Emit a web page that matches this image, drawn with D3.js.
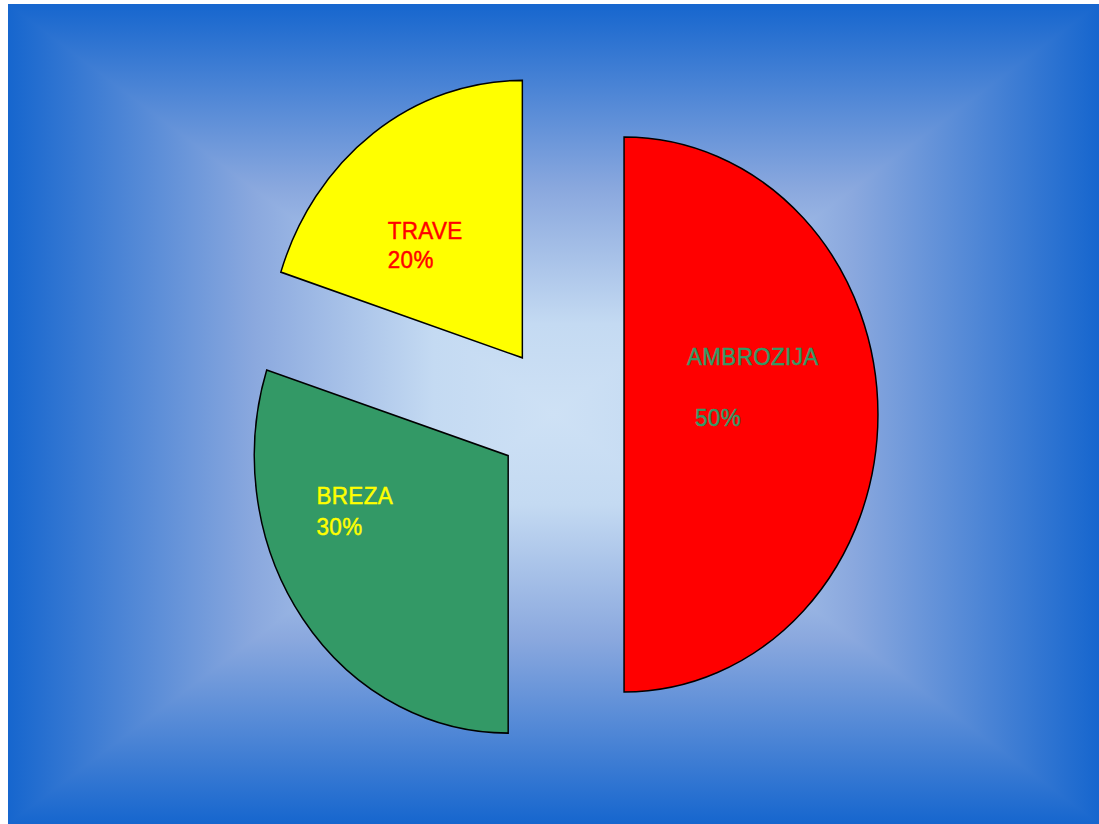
<!DOCTYPE html>
<html lang="hr">
<head>
<meta charset="utf-8">
<title>Alergeni</title>
<style>
  html, body { margin: 0; padding: 0; background: #ffffff; }
  #chart { display: block; }
  text { font-family: "Liberation Sans", Arial, sans-serif; }
</style>
</head>
<body>
<svg id="chart" width="1099" height="824"></svg>
<script src="https://d3js.org/d3.v7.min.js"></script>
<script>
// data
const categories = ["AMBROZIJA", "BREZA", "TRAVE"];
const values = [50, 30, 20];
const percentLabels = ["50%", "30%", "20%"];

// styles
const sliceColors = ["#ff0000", "#339966", "#ffff00"];
const labelColors = ["#339966", "#ffff00", "#ff0000"];

// layout
const W = 1099, H = 824;
const bg = { x0: 8, y0: 4, x1: 1099, y1: 824 };
const cx = 560, cy = 414.5;
const R = 277.5;          // vertical radius
const sx = 0.915;         // horizontal squash of the whole pie
const explode = 70;       // distance each slice is pulled out
const fontSize = 24.5;
// text start relative to slice centroid (screen px), and second line offset
const labelNudge = [[-64, -50], [-89, -33], [-60, -6.5]];
const percentShift = [[8, 62], [0, 31], [0, 29]];

const edgeBlue = "rgb(22,102,206)";
const midBlue = "rgb(138,168,222)";
const lightBlue = "rgb(196,218,242)";
const centreBlue = "rgb(206,225,245)";

const svg = d3.select("#chart");
const defs = svg.append("defs");

// rectangular gradient background built from four triangles
const bcx = (bg.x0 + bg.x1) / 2, bcy = (bg.y0 + bg.y1) / 2;
const sides = [
  { id: "gTop", pts: [[bg.x0, bg.y0], [bg.x1, bg.y0], [bcx, bcy]], from: [bcx, bg.y0], to: [bcx, bcy] },
  { id: "gBottom", pts: [[bg.x0, bg.y1], [bg.x1, bg.y1], [bcx, bcy]], from: [bcx, bg.y1], to: [bcx, bcy] },
  { id: "gLeft", pts: [[bg.x0, bg.y0], [bg.x0, bg.y1], [bcx, bcy]], from: [bg.x0, bcy], to: [bcx, bcy] },
  { id: "gRight", pts: [[bg.x1, bg.y0], [bg.x1, bg.y1], [bcx, bcy]], from: [bg.x1, bcy], to: [bcx, bcy] }
];
sides.forEach(s => {
  const lg = defs.append("linearGradient")
    .attr("id", s.id)
    .attr("gradientUnits", "userSpaceOnUse")
    .attr("x1", s.from[0]).attr("y1", s.from[1])
    .attr("x2", s.to[0]).attr("y2", s.to[1]);
  lg.append("stop").attr("offset", 0).attr("stop-color", edgeBlue);
  lg.append("stop").attr("offset", 0.45).attr("stop-color", midBlue);
  lg.append("stop").attr("offset", 0.78).attr("stop-color", lightBlue);
  lg.append("stop").attr("offset", 1).attr("stop-color", centreBlue);
});
const bgG = svg.append("g").attr("class", "background");
bgG.append("rect")
  .attr("x", bg.x0).attr("y", bg.y0)
  .attr("width", bg.x1 - bg.x0).attr("height", bg.y1 - bg.y0)
  .attr("fill", edgeBlue);
bgG.selectAll("polygon")
  .data(sides)
  .join("polygon")
  .attr("points", d => d.pts.map(p => p.join(",")).join(" "))
  .attr("fill", d => `url(#${d.id})`)
  .attr("shape-rendering", "crispEdges");

// pie
const pie = d3.pie().sort(null).value(d => d.value);
const arc = d3.arc().innerRadius(0).outerRadius(R);
const slices = pie(categories.map((c, i) => ({ name: c, value: values[i], i })));

function sliceCentre(d) {
  const mid = (d.startAngle + d.endAngle) / 2;
  return [cx + sx * Math.sin(mid) * explode, cy - Math.cos(mid) * explode];
}

svg.append("g").attr("class", "slices")
  .selectAll("path")
  .data(slices)
  .join("path")
  .attr("transform", d => {
    const c = sliceCentre(d);
    return `translate(${c[0]},${c[1]}) scale(${sx},1)`;
  })
  .attr("d", arc)
  .attr("fill", d => sliceColors[d.data.i])
  .attr("stroke", "#000000")
  .attr("stroke-width", 1.6)
  .attr("stroke-linejoin", "miter");

// labels
const labels = svg.append("g").attr("class", "labels")
  .selectAll("g")
  .data(slices)
  .join("g")
  .attr("transform", d => {
    const c = sliceCentre(d);
    const k = arc.centroid(d);
    const n = labelNudge[d.data.i];
    return `translate(${c[0] + sx * k[0] + n[0]},${c[1] + k[1] + n[1]}) scale(${sx},1)`;
  })
  .attr("fill", d => labelColors[d.data.i])
  .attr("stroke", d => labelColors[d.data.i])
  .attr("stroke-width", 0.5)
  .style("font-size", fontSize + "px")
  .style("letter-spacing", "0.4px");

labels.append("text")
  .attr("x", 0).attr("y", 0)
  .text(d => d.data.name);

labels.append("text")
  .attr("x", d => percentShift[d.data.i][0] / sx)
  .attr("y", d => percentShift[d.data.i][1])
  .text(d => percentLabels[d.data.i]);
</script>
</body>
</html>
